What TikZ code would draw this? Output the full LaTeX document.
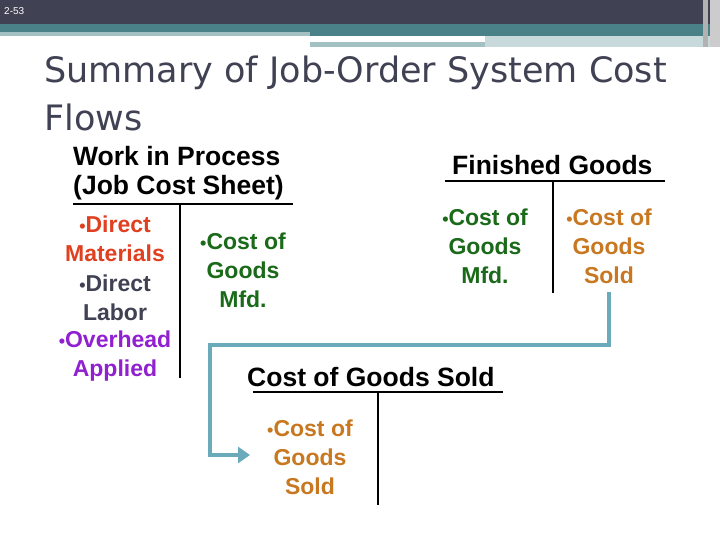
\documentclass[tikz,border=0pt]{standalone}
\usepackage{fontspec}
\setmainfont{Liberation Sans}
\newfontfamily\titlefont{DejaVu Sans}
\usetikzlibrary{arrows.meta}
\definecolor{bar}{HTML}{404254}
\definecolor{teal1}{HTML}{4A8088}
\definecolor{lteal}{HTML}{A3C0C3}
\definecolor{arrowc}{HTML}{6AAABB}
\definecolor{red1}{HTML}{E04020}
\definecolor{purp}{HTML}{9020D0}
\definecolor{grn}{HTML}{1A6A1A}
\definecolor{orng}{HTML}{C87820}
\tikzset{
  ent/.style={font=\fontsize{23}{29}\selectfont\bfseries, align=center, inner sep=0pt, anchor=north},
  head/.style={font=\fontsize{26.5}{29}\selectfont\bfseries, align=left, inner sep=0pt},
  tline/.style={line width=1.8pt, black},
  flow/.style={line width=4.5pt, arrowc, -{Triangle[length=12pt,width=16pt]}}
}
\newcommand{\bul}{{\fontsize{18}{18}\selectfont •}}
\begin{document}
\begin{tikzpicture}[x=1pt,y=-1pt]
\useasboundingbox (0,0) rectangle (720,540);
\fill[white] (0,0) rectangle (720,540);
% top bars
\fill[bar] (0,0) rectangle (720,24);
\fill[teal1] (0,24) rectangle (720,36);
\fill[lteal] (0,32) rectangle (310,36);
\fill[lteal] (310,42) rectangle (485,47);
\fill[lteal!60] (485,36) rectangle (720,47);
\fill[gray!60] (703,0) rectangle (708,47);
\fill[gray!40] (710,0) rectangle (720,47);
\node[anchor=west, text=white, font=\fontsize{10}{10}\selectfont, inner sep=0pt] (pg) at (4,11) {2-53};
% title
\node[anchor=north west, text=bar, inner sep=0pt, align=left, font=\titlefont\fontsize{35}{48}\selectfont] (title) at (44,56) {Summary of Job-Order System Cost\\Flows};
% WIP
\node[head, anchor=north west] (wiph) at (73,146) {Work in Process\\(Job Cost Sheet)};
\coordinate (wl1) at (73,204); \coordinate (wl2) at (293,204);
\coordinate (wv1) at (180,204); \coordinate (wv2) at (180,378);
\draw[tline] (wl1) -- (wl2); \draw[tline] (wv1) -- (wv2);
\node[ent, text=red1] (dm) at (115,216) {\bul Direct\\Materials};
\node[ent, text=bar] (dl) at (115,275) {\bul Direct\\Labor};
\node[ent, text=purp] (oh) at (115,331) {\bul Overhead\\Applied};
\node[ent, text=grn] (wcgm) at (243,233) {\bul Cost of\\Goods\\Mfd.};
% FG
\node[head, anchor=base west] (fgh) at (452,175) {Finished Goods};
\coordinate (fl1) at (445,181); \coordinate (fl2) at (665,181);
\coordinate (fv1) at (553,181); \coordinate (fv2) at (553,293);
\draw[tline] (fl1) -- (fl2); \draw[tline] (fv1) -- (fv2);
\node[ent, text=grn] (fcgm) at (485,209) {\bul Cost of\\Goods\\Mfd.};
\node[ent, text=orng] (fcgs) at (609,209) {\bul Cost of\\Goods\\Sold};
% COGS
\node[head, anchor=base west] (ch) at (247,386) {Cost of Goods Sold};
\coordinate (cl1) at (253,392); \coordinate (cl2) at (503,392);
\coordinate (cv1) at (378,392); \coordinate (cv2) at (378,505);
\draw[tline] (cl1) -- (cl2); \draw[tline] (cv1) -- (cv2);
\node[ent, text=orng] (ccgs) at (310,420) {\bul Cost of\\Goods\\Sold};
% flow arrow
\coordinate (a0) at (609,292);
\coordinate (a1) at (250,455);
\draw[flow] (a0) -- (609,345) -- (210,345) -- (210,455) -- (a1);
\end{tikzpicture}
\end{document}
